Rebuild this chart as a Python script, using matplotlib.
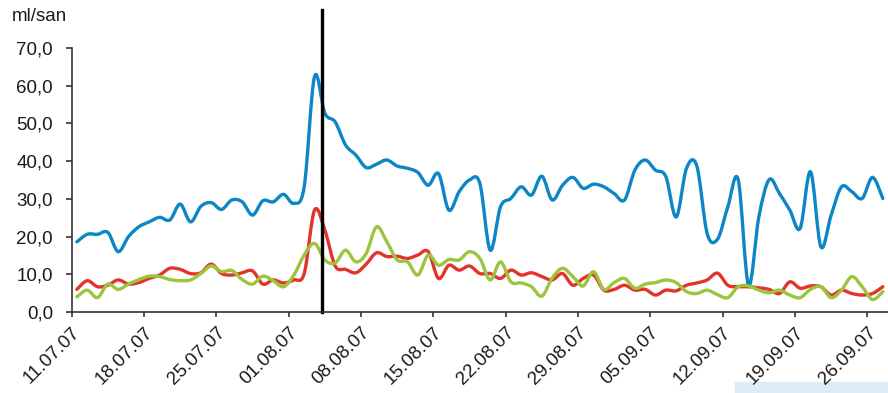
import matplotlib

matplotlib.use("Agg")
import matplotlib.pyplot as plt
import matplotlib.transforms as mtransforms
from matplotlib.path import Path
from matplotlib.patches import PathPatch, Rectangle
import numpy as np

# daily readings, 11.07.07 .. 27.09.07
blue_vals = [
    18.6, 20.6, 20.6, 21.1, 16.0, 20.0, 22.6, 23.9, 25.1, 24.4,
    28.6, 23.9, 28.0, 29.0, 27.2, 29.7, 29.2, 25.7, 29.5, 29.2,
    31.2, 28.8, 33.2, 62.4, 52.7, 50.4, 44.3, 41.6, 38.3, 39.2,
    40.3, 38.7, 38.1, 37.0, 33.6, 36.7, 27.0, 31.9, 35.0, 34.1,
    16.4, 27.9, 30.1, 33.2, 31.0, 36.0, 29.7, 33.6, 35.7, 32.8,
    33.9, 33.2, 31.4, 29.7, 37.6, 40.3, 37.6, 35.9, 25.2, 38.1,
    38.7, 20.8, 19.3, 27.9, 35.1, 7.1, 25.2, 35.1, 31.4, 27.0,
    22.2, 37.2, 17.3, 25.7, 33.2, 31.9, 30.1, 35.7, 30.1,
]
red_vals = [
    6.0, 8.3, 6.7, 7.1, 8.5, 7.4, 7.8, 8.9, 9.8, 11.6,
    11.3, 10.2, 10.4, 12.7, 10.2, 9.8, 10.4, 10.9, 7.4, 8.5,
    7.7, 8.5, 10.2, 27.0, 21.7, 12.2, 11.3, 10.4, 12.7, 15.7,
    14.7, 14.8, 14.2, 15.1, 16.0, 8.9, 12.4, 11.1, 12.2, 10.2,
    10.2, 8.9, 11.1, 9.8, 10.4, 9.4, 8.5, 10.2, 7.1, 8.9,
    9.8, 5.8, 6.0, 7.1, 5.8, 6.0, 4.5, 5.8, 5.6, 7.1,
    7.7, 8.5, 10.3, 7.1, 6.7, 6.7, 6.4, 6.0, 4.9, 8.0,
    6.3, 6.9, 6.7, 4.5, 5.8, 4.9, 4.5, 4.9, 6.7,
]
green_vals = [
    4.0, 5.8, 3.8, 7.4, 6.0, 7.4, 8.6, 9.5, 9.4, 8.6,
    8.3, 8.5, 10.2, 12.2, 10.7, 11.0, 8.6, 7.4, 9.5, 8.3,
    6.7, 9.8, 15.1, 18.2, 13.8, 13.0, 16.4, 13.3, 15.5, 22.6,
    18.6, 13.8, 13.3, 9.8, 15.1, 12.4, 13.9, 13.8, 16.0, 14.2,
    8.5, 13.3, 8.0, 7.7, 6.7, 4.2, 9.0, 11.6, 9.4, 6.9,
    10.7, 6.0, 7.8, 8.9, 6.3, 7.4, 7.8, 8.5, 7.8, 5.4,
    4.9, 5.8, 4.6, 3.8, 6.7, 6.9, 5.8, 5.1, 5.8, 4.5,
    3.8, 6.0, 6.7, 3.8, 5.8, 9.4, 6.7, 3.3, 5.4,
]
tick_labels = [
    "11.07.07", "18.07.07", "25.07.07", "01.08.07", "08.08.07", "15.08.07",
    "22.08.07", "29.08.07", "05.09.07", "12.09.07", "19.09.07", "26.09.07",
]
event_day = 24.2  # marker between 04.08 and 05.08

BLUE = "#0d86c6"
RED = "#e3342b"
GREEN = "#9bc53d"
TEXT = "#1a1a1a"
AXIS = "#333333"


def smooth_path(x, y):
    # cubic bezier through every point (catmull-rom style tangents)
    n = len(x)
    verts = [(x[0], y[0])]
    codes = [Path.MOVETO]
    for k in range(n - 1):
        xp, yp = (x[k - 1], y[k - 1]) if k > 0 else (x[k], y[k])
        xn, yn = (x[k + 2], y[k + 2]) if k + 2 < n else (x[k + 1], y[k + 1])
        c1 = (x[k] + (x[k + 1] - xp) / 6, y[k] + (y[k + 1] - yp) / 6)
        c2 = (x[k + 1] - (xn - x[k]) / 6, y[k + 1] - (yn - y[k]) / 6)
        verts += [c1, c2, (x[k + 1], y[k + 1])]
        codes += [Path.CURVE4] * 3
    return Path(verts, codes)


plt.rcParams["font.family"] = ["Liberation Sans", "DejaVu Sans"]

fig = plt.figure(figsize=(8.88, 3.93), dpi=100)
ax = fig.add_axes([71.7 / 888, 81 / 393, (888 - 71.7) / 888, 264 / 393])

days = np.arange(len(blue_vals)) + 0.5
for vals, color in [(blue_vals, BLUE), (red_vals, RED), (green_vals, GREEN)]:
    patch = PathPatch(smooth_path(days, vals), fill=False, edgecolor=color,
                      lw=2.4, capstyle="round", joinstyle="round")
    ax.add_patch(patch)

ax.plot([event_day, event_day], [0, 80], color="black", lw=2.4, clip_on=False)

ax.set_xlim(0, 79)
ax.set_ylim(0, 70)
ax.set_yticks(np.arange(0, 71, 10))
ax.set_yticklabels([f"{v:.1f}".replace(".", ",") for v in range(0, 71, 10)])
ax.set_xticks(np.arange(len(tick_labels)) * 7)
ax.set_xticklabels(tick_labels, rotation=45, ha="right", va="top",
                   rotation_mode="anchor")

# nudge the slanted date labels a little to the right
shift = mtransforms.ScaledTranslation(7 / 100, 0, fig.dpi_scale_trans)
for lbl in ax.get_xticklabels():
    lbl.set_transform(lbl.get_transform() + shift)

for side in ("top", "right"):
    ax.spines[side].set_visible(False)
for side in ("left", "bottom"):
    ax.spines[side].set_color(AXIS)
    ax.spines[side].set_linewidth(1.2)
ax.tick_params(axis="y", direction="out", length=4.5, width=1.2, color=AXIS,
               pad=9, labelsize=13.5, labelcolor=TEXT)
ax.tick_params(axis="x", direction="out", length=3.5, width=1.2, color=AXIS,
               pad=5, labelsize=13.5, labelcolor=TEXT)

fig.text(12 / 888, 1 - 21 / 393, "ml/san", fontsize=13.5, va="baseline",
         color=TEXT)

# light strip in the lower right corner
fig.patches.append(Rectangle((735 / 888, 0), 153 / 888, 11 / 393,
                             transform=fig.transFigure, color="#dcedf8",
                             zorder=-1))

fig.savefig("out.png", dpi=100)
